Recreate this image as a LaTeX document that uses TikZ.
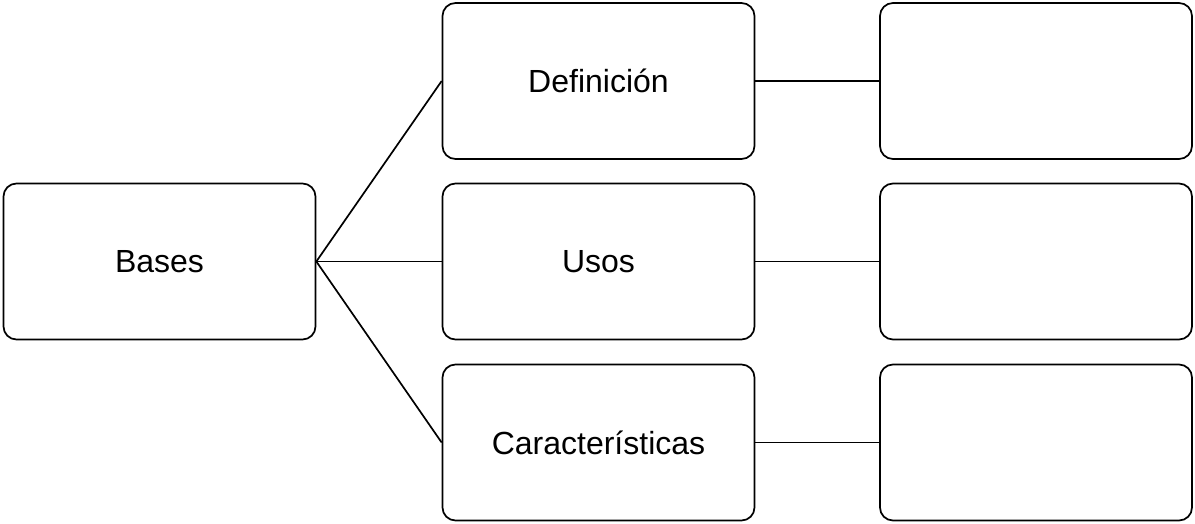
\documentclass[tikz,border=0pt]{standalone}
\usepackage{fontspec}
\setmainfont{Liberation Sans}

\begin{document}
\begin{tikzpicture}[x=1pt,y=-1pt,line width=1.7pt,
		caja/.style={draw,rounded corners=13pt,minimum width=312pt,minimum height=156pt,font=\fontsize{32}{38}\selectfont}]
			\useasboundingbox (0,0) rectangle (1195,523);

			\node[caja] (bases) at (159.5,261.5) {Bases};

			\node[caja] (def) at (598.5,81) {Definición};
			\node[caja] (usos) at (598.5,261.5) {Usos};
			\node[caja] (car) at (598.5,442.5) {Características};

			\node[caja] (r1) at (1036,81) {};
			\node[caja] (r2) at (1036,261.5) {};
			\node[caja] (r3) at (1036,442.5) {};

			\draw (bases.east)--(def.west);
			\draw (bases.east)--(usos.west);
			\draw (bases.east)--(car.west);
			\draw (def.east)--(r1.west);
			\draw (usos.east)--(r2.west);
			\draw (car.east)--(r3.west);
		\end{tikzpicture}
\end{document}
